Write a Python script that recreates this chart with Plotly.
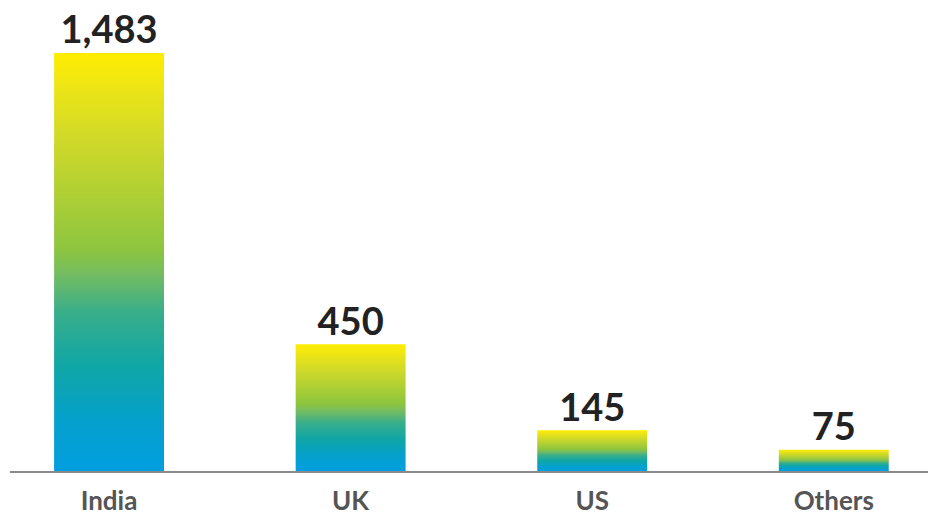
import plotly.graph_objects as go

# Data
categories = ["India", "UK", "US", "Others"]
values = [1483, 450, 145, 75]
value_labels = ["1,483", "450", "145", "75"]

BAR_WIDTH = 0.455
GRADIENT = [
    [0.0, "#009EE0"],
    [0.12, "#05A0CC"],
    [0.25, "#0FA6A6"],
    [0.38, "#39AE8A"],
    [0.47, "#74BC62"],
    [0.53, "#8DC53F"],
    [0.65, "#ACCE35"],
    [0.8, "#D1DA28"],
    [0.92, "#EDE515"],
    [1.0, "#FFED00"],
]

fig = go.Figure()

# Each bar is a filled rectangle so it can carry a vertical gradient
for i, v in enumerate(values):
    x0, x1 = i - BAR_WIDTH / 2, i + BAR_WIDTH / 2
    fig.add_trace(go.Scatter(
        x=[x0, x1, x1, x0, x0],
        y=[0, 0, v, v, 0],
        mode="lines",
        line=dict(width=0),
        fill="toself",
        fillgradient=dict(type="vertical", colorscale=GRADIENT),
        hoverinfo="skip",
        showlegend=False,
    ))

# Value labels above the bars
fig.add_trace(go.Scatter(
    x=list(range(len(categories))),
    y=values,
    mode="text",
    text=value_labels,
    textposition="top center",
    textfont=dict(family="Lato", size=38, color="#222222", weight="bold"),
    hoverinfo="skip",
    showlegend=False,
))

fig.update_layout(
    width=928,
    height=512,
    margin=dict(l=10, r=0, t=0, b=41),
    paper_bgcolor="white",
    plot_bgcolor="white",
    xaxis=dict(
        range=[-0.41, 3.39],
        tickvals=list(range(len(categories))),
        ticktext=categories,
        tickfont=dict(family="Lato", size=26, color="#555555", weight="bold"),
        showgrid=False,
        zeroline=False,
        showline=True,
        linecolor="#8A8A8A",
        linewidth=2,
        ticks="",
        ticklabelstandoff=6,
        automargin=False,
    ),
    yaxis=dict(
        range=[0, 1671],
        visible=False,
        showgrid=False,
        zeroline=False,
        automargin=False,
    ),
)

fig.write_html("out.html")
